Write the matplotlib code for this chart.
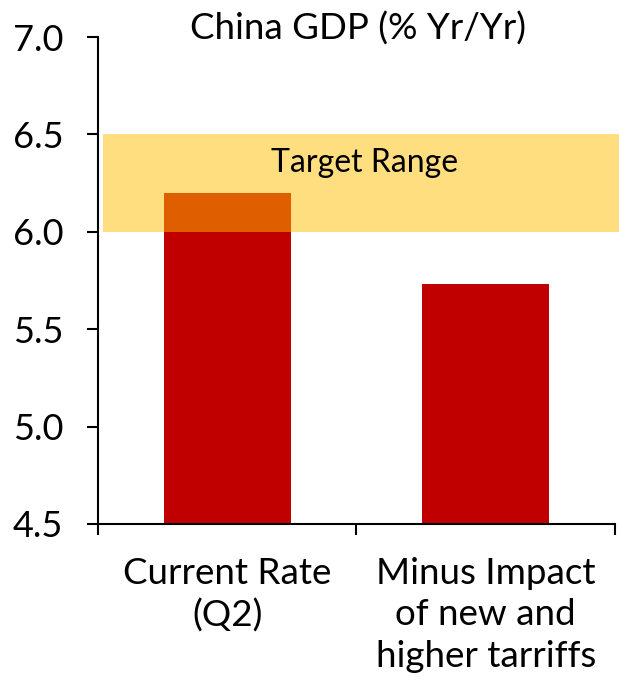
import matplotlib
matplotlib.use("Agg")
import matplotlib.pyplot as plt
from matplotlib.patches import Rectangle

categories = ["Current Rate\n(Q2)", "Minus Impact\nof new and\nhigher tarriffs"]
gdp_growth = [6.2, 5.73]
target_low, target_high = 6.0, 6.5
y_ticks = [4.5, 5.0, 5.5, 6.0, 6.5, 7.0]

plt.rcParams["font.family"] = ["Lato", "DejaVu Sans"]

fig = plt.figure(figsize=(6.19, 6.77), dpi=100)
ax = fig.add_axes([0.1583, 0.226, 0.8352, 0.7193])

x = range(len(categories))
ax.bar(x, gdp_growth, width=0.49, color="#C00000", zorder=2)

# Target band, drawn translucent over the bars
band = Rectangle((-0.48, target_low), 2.1, target_high - target_low,
                 facecolor="#FFBE00", alpha=0.5, edgecolor="none",
                 zorder=3, clip_on=False)
ax.add_patch(band)
ax.text(0.53, 6.355, "Target Range", ha="center", va="center",
        fontsize=23, zorder=4)

ax.set_xlim(-0.5, 1.5)
ax.set_ylim(4.5, 7.0)
ax.set_yticks(y_ticks)
ax.set_yticklabels([f"{v:.1f}" for v in y_ticks], fontsize=26)
ax.tick_params(axis="y", length=8, width=1.5, pad=17)

ax.set_xticks(list(x))
ax.set_xticklabels(categories, fontsize=26.5, linespacing=1.3)
ax.tick_params(axis="x", which="major", length=0, pad=24)
ax.set_xticks([-0.5, 0.5, 1.5], minor=True)
ax.tick_params(axis="x", which="minor", length=8, width=1.5)

for side in ["top", "right"]:
    ax.spines[side].set_visible(False)
for side in ["left", "bottom"]:
    ax.spines[side].set_linewidth(1.5)

fig.text(0.578, 0.958, "China GDP (% Yr/Yr)", ha="center", va="center",
         fontsize=26.5)

fig.savefig("out.png", dpi=100)
